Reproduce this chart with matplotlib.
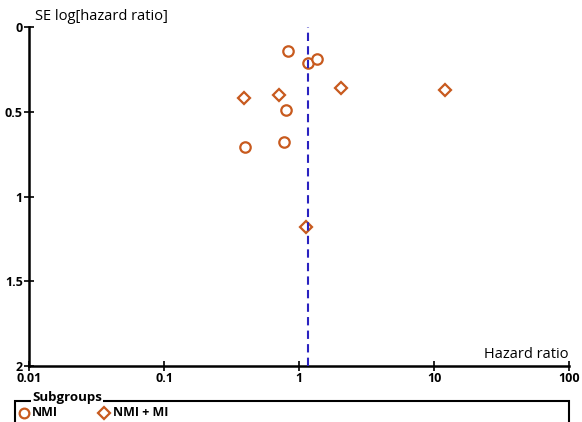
import numpy as np
import matplotlib.pyplot as plt
from matplotlib.patches import Rectangle
from matplotlib.lines import Line2D

# hazard ratio / SE log[HR]
nmi_hr = [0.83, 1.17, 1.36, 0.80, 0.40, 0.77]
nmi_se = [0.14, 0.21, 0.19, 0.49, 0.71, 0.68]
mi_hr = [2.05, 12.0, 0.39, 0.71, 1.13]
mi_se = [0.36, 0.37, 0.42, 0.40, 1.18]
pooled_hr = 1.17

xticks = [0.01, 0.1, 1, 10, 100]
xtick_labels = ["0.01", "0.1", "1", "10", "100"]
yticks = [0, 0.5, 1, 1.5, 2]
ytick_labels = ["0", "0.5", "1", "1.5", "2"]

orange = '#C85A1E'
blue = '#2A22C0'

W, H = 582, 422
fig = plt.figure(figsize=(W / 100, H / 100), dpi=100)
plt.rcParams['font.family'] = ['Open Sans', 'DejaVu Sans']

# axes box in pixels: y-axis at x=29, x-axis at y=366
ax = fig.add_axes([29 / W, (H - 366) / H, 540 / W, 339 / H])
ax.set_xscale('log')
ax.set_xlim(0.01, 100)
ax.set_ylim(2, 0)

ax.plot(nmi_hr, nmi_se, 'o', ms=7.5, mfc='white', mec=orange, mew=1.6,
        linestyle='none', zorder=3)
ax.plot(mi_hr, mi_se, 'D', ms=6.5, mfc='white', mec=orange, mew=1.6,
        linestyle='none', zorder=3)
ax.axvline(pooled_hr, color=blue, lw=1.5, ls=(0, (4, 2.5)), zorder=4)

for s in ['top', 'right']:
    ax.spines[s].set_visible(False)
for s in ['left', 'bottom']:
    ax.spines[s].set_linewidth(1.8)

ax.set_xticks(xticks)
ax.set_xticklabels(xtick_labels)
ax.minorticks_off()
ax.set_yticks(yticks)
ax.set_yticklabels(ytick_labels)
ax.tick_params(axis='both', direction='inout', length=7, width=1.2,
               labelsize=9, pad=1)
for lbl in ax.get_xticklabels() + ax.get_yticklabels():
    lbl.set_fontweight('bold')

fig.text(35 / W, 1 - 17 / H, "SE log[hazard ratio]", fontsize=10.5,
         va='center', ha='left')
fig.text(569 / W, 1 - 355 / H, "Hazard ratio", fontsize=10.5,
         va='center', ha='right')

# legend box (runs off the bottom edge)
box = Rectangle((15 / W, -0.1), 554 / W, (H - 401) / H + 0.1,
                transform=fig.transFigure, fill=False, lw=1.5,
                edgecolor='black')
fig.add_artist(box)
fig.text(32 / W, 1 - 398 / H, "Subgroups", fontsize=9.5, fontweight='bold',
         va='center', ha='left',
         bbox=dict(facecolor='white', edgecolor='none', pad=0.8))
fig.add_artist(Line2D([24 / W], [1 - 413 / H], marker='o', ms=7,
                      mfc='white', mec=orange, mew=1.6,
                      transform=fig.transFigure))
fig.text(32 / W, 1 - 413 / H, "NMI", fontsize=9, fontweight='bold',
         va='center', ha='left')
fig.add_artist(Line2D([104 / W], [1 - 413 / H], marker='D', ms=6.5,
                      mfc='white', mec=orange, mew=1.6,
                      transform=fig.transFigure))
fig.text(113 / W, 1 - 413 / H, "NMI + MI", fontsize=9, fontweight='bold',
         va='center', ha='left')

fig.savefig('out.png', dpi=100)
